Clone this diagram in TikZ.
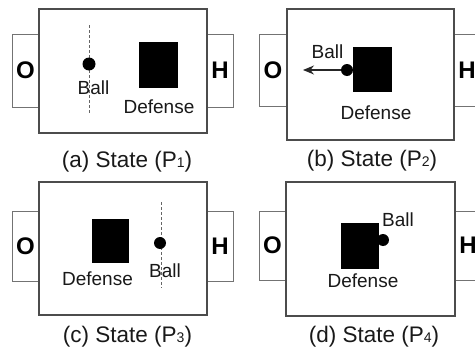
\documentclass[tikz,border=0pt]{standalone}
\usepackage{fontspec}
\setmainfont{Liberation Sans}
\usetikzlibrary{arrows.meta}
\tikzset{
 field/.style={draw=black!70, line width=1.6pt, fill=white, inner sep=0pt, outer sep=0pt},
 goal/.style={draw=black!55, line width=0.9pt, fill=white, inner sep=0pt, outer sep=0pt,
   font=\fontsize{24}{24}\selectfont\bfseries, text=black},
 defense/.style={fill=black, draw=black, line width=0.5pt, inner sep=0pt, outer sep=0pt},
 ball/.style={circle, fill=black, inner sep=0pt, outer sep=0pt, minimum size=12pt},
 lbl/.style={font=\fontsize{19}{19}\selectfont, text=black!90, anchor=base, inner sep=0pt},
 captext/.style={font=\fontsize{22.5}{22.5}\selectfont, text=black!90, anchor=base, inner sep=0pt},
 track/.style={draw=black!60, line width=1pt, dash pattern=on 3pt off 2pt},
 move/.style={draw=black!85, line width=1.2pt, -{Stealth[length=11pt,width=9pt]}},
}
\newcommand{\subdig}[1]{\raisebox{-0.5pt}{\fontsize{14}{14}\selectfont #1}}
\begin{document}
\begin{tikzpicture}[x=1pt,y=-1pt]
\useasboundingbox (0,0) rectangle (475,348);
% ---------- (a) ----------
\node[goal, minimum width=27pt, minimum height=73pt] (gaL) at (25.5,70.5) {O};
\node[goal, minimum width=26pt, minimum height=73pt] (gaR) at (220,70.5) {H};
\node[field, minimum width=168pt, minimum height=124pt] (fa) at (123,71) {};
\coordinate (ta1) at (89,25);
\coordinate (ta2) at (89,114);
\draw[track] (ta1) -- (ta2);
\node[ball, minimum size=13pt] (ba) at (89,64) {};
\node[lbl] (lba) at (93.5,95) {Ball};
\node[defense, minimum width=38pt, minimum height=45pt] (da) at (158,64.5) {};
\node[lbl] (lda) at (159,113) {Defense};
\node[captext] (ca) at (127,167) {(a) State (P\subdig{1})};
% ---------- (b) ----------
\node[goal, minimum width=28pt, minimum height=72pt] (gbL) at (273,70) {O};
\node[goal, minimum width=26pt, minimum height=72pt] (gbR) at (467,70) {H};
\node[field, minimum width=167pt, minimum height=131pt] (fb) at (370.5,74.5) {};
\node[ball] (bb) at (347,70) {};
\coordinate (ab) at (303,70);
\draw[move] (bb) -- (ab);
\node[defense, minimum width=38pt, minimum height=44pt] (db) at (372,69) {};
\node[lbl] (lbb) at (327.5,59) {Ball};
\node[lbl] (ldb) at (376,119) {Defense};
\node[captext] (cb) at (372,166) {(b) State (P\subdig{2})};
% ---------- (c) ----------
\node[goal, minimum width=27pt, minimum height=70pt] (gcL) at (25.5,246) {O};
\node[goal, minimum width=26pt, minimum height=70pt] (gcR) at (220,246) {H};
\node[field, minimum width=168pt, minimum height=133pt] (fc) at (123,248.5) {};
\node[defense, minimum width=36pt, minimum height=43pt] (dc) at (110,240.5) {};
\node[lbl] (ldc) at (97.5,285) {Defense};
\coordinate (tc1) at (161,202);
\coordinate (tc2) at (161,288);
\draw[track] (tc1) -- (tc2);
\node[ball] (bc) at (160,243) {};
\node[lbl] (lbc) at (165,277) {Ball};
\node[captext] (cc) at (127.5,342) {(c) State (P\subdig{3})};
% ---------- (d) ----------
\node[goal, minimum width=27pt, minimum height=69pt] (gdL) at (272.5,245.5) {O};
\node[goal, minimum width=26pt, minimum height=69pt] (gdR) at (468,245.5) {H};
\node[field, minimum width=169pt, minimum height=134pt] (fd) at (370.5,249) {};
\node[ball] (bd) at (383,240) {};
\node[defense, minimum width=37pt, minimum height=45pt] (dd) at (359.5,245.5) {};
\node[lbl] (lbd) at (398,226) {Ball};
\node[lbl] (ldd) at (363,287) {Defense};
\node[captext] (cd) at (374,342) {(d) State (P\subdig{4})};
\end{tikzpicture}
\end{document}
